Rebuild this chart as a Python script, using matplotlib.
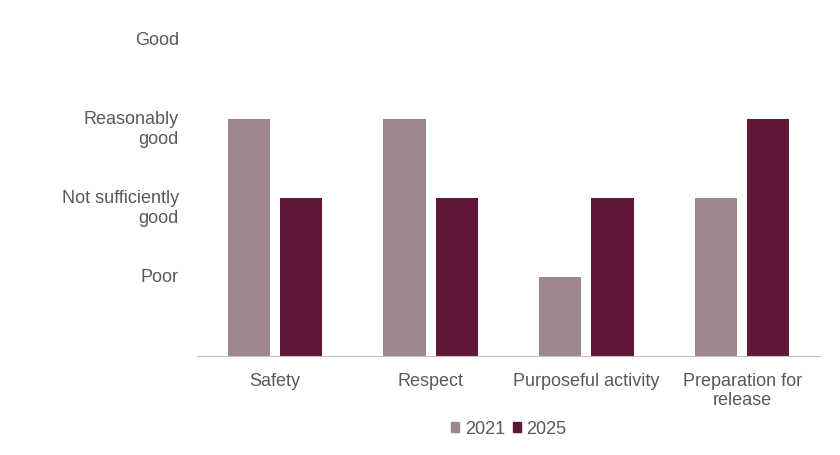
import numpy as np
import matplotlib
matplotlib.use('Agg')
from matplotlib import pyplot as plt
from matplotlib.patches import Patch
import matplotlib.transforms as mtransforms

# 数据
categories = ["Safety", "Respect", "Purposeful activity", "Preparation for\nrelease"]
levels = ["Poor", "Not sufficiently\ngood", "Reasonably\ngood", "Good"]
score_2021 = [3, 3, 1, 2]
score_2025 = [2, 2, 2, 3]

c2021 = "#9E868D"
c2025 = "#5E1738"
txt = "#595959"

plt.rcParams['font.family'] = ['Liberation Sans', 'DejaVu Sans']
fig = plt.figure(figsize=(8.4, 4.55), dpi=100)
ax = fig.add_axes([197/840, 1-356/455, (820-197)/840, (356-40)/455])

x = np.arange(len(categories))
w = 0.272
off = 0.168
ax.bar(x - off, score_2021, w, color=c2021, label="2021")
ax.bar(x + off, score_2025, w, color=c2025, label="2025")

ax.set_xlim(-0.5, 3.5)
ax.set_ylim(0, 4)
ax.set_xticks(x)
ax.set_xticklabels(categories, fontsize=13, color=txt, linespacing=1.2)
ax.set_yticks([1, 2, 3, 4])
ax.set_yticklabels(levels, fontsize=13, color=txt, linespacing=1.2)
ax.tick_params(axis='both', length=0)
ax.tick_params(axis='y', pad=13)
ax.tick_params(axis='x', pad=12)

# 多行标签：第一行对齐刻度
shift = mtransforms.ScaledTranslation(0, 5.5/72, fig.dpi_scale_trans)
for lab in ax.get_yticklabels():
    lab.set_verticalalignment('top')
    lab.set_transform(lab.get_transform() + shift)

for s in ['top', 'right', 'left']:
    ax.spines[s].set_visible(False)
ax.spines['bottom'].set_color("#BFBFBF")

handles = [Patch(color=c2021, label="2021"), Patch(color=c2025, label="2025")]
fig.legend(handles=handles, loc='center', bbox_to_anchor=(509/840, 1-429/455),
           ncol=2, frameon=False, fontsize=13, handlelength=0.45, handleheight=0.45,
           handletextpad=0.3, columnspacing=0.45, labelcolor=txt)

fig.savefig("out.png", dpi=100)
